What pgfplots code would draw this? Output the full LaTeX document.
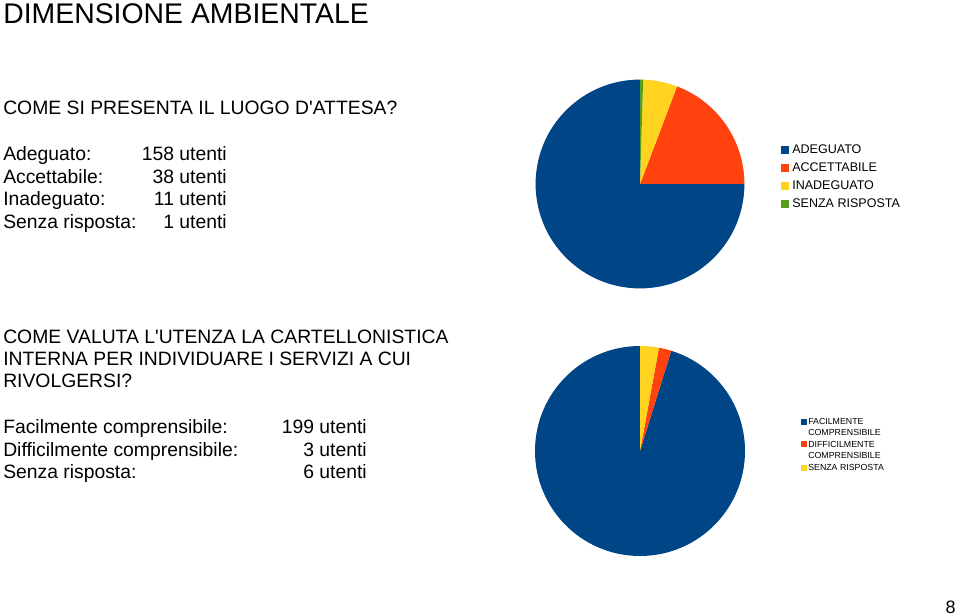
\documentclass[border=0pt]{standalone}
\usepackage{pgfplots}
\pgfplotsset{compat=1.18}
\usepackage{fontspec}
\setmainfont{Liberation Sans}[Ligatures=TeXOff]

\definecolor{cBlue}{HTML}{004586}
\definecolor{cOrange}{HTML}{FF420E}
\definecolor{cYellow}{HTML}{FFD320}
\definecolor{cGreen}{HTML}{579D1C}

% one slice: colour, start angle, end angle (radius \R)
\newcommand{\slice}[3]{%
  \pgfmathsetmacro{\sx}{cos(#2)}\pgfmathsetmacro{\sy}{sin(#2)}%
  \edef\tmp{\noexpand\addplot[fill=#1, draw=none] coordinates {(0,0) (\sx,\sy)}
    arc[start angle=#2, end angle=#3, radius=\R] -- cycle;}\tmp}

\newcommand{\fsTitle}{\fontsize{21.3pt}{25pt}\selectfont}
\newcommand{\fsBody}{\fontsize{14.5pt}{16.9pt}\selectfont}
\newcommand{\fsLegA}{\fontsize{9.4pt}{13.5pt}\selectfont}
\newcommand{\fsLegB}{\fontsize{6.6pt}{8.6pt}\selectfont}

\begin{document}
\begin{tikzpicture}[x=0.75pt, y=-0.75pt]
\fill[white] (0,0) rectangle (959,616);

% texts
\node[anchor=base west, inner sep=0, font=\fsTitle] at (3,24) {DIMENSIONE AMBIENTALE};
\node[anchor=base west, inner sep=0, font=\fsBody] at (3,115) {COME SI PRESENTA IL LUOGO D'ATTESA?};

\foreach \lab/\val/\yy in {Adeguato:/158/161, Accettabile:/38/183.5, Inadeguato:/11/206, Senza risposta:/1/228.5}{
  \node[anchor=base west, inner sep=0, font=\fsBody] at (3,\yy) {\lab};
  \node[anchor=base east, inner sep=0, font=\fsBody] at (227,\yy) {\val\ utenti};
}

\node[anchor=base west, inner sep=0, font=\fsBody] at (3,343) {COME VALUTA L'UTENZA LA CARTELLONISTICA};
\node[anchor=base west, inner sep=0, font=\fsBody] at (3,365) {INTERNA PER INDIVIDUARE I SERVIZI A CUI};
\node[anchor=base west, inner sep=0, font=\fsBody] at (3,387) {RIVOLGERSI?};

\foreach \lab/\val/\yy in {Facilmente comprensibile:/199/433, Difficilmente comprensibile:/3/456, Senza risposta:/6/478}{
  \node[anchor=base west, inner sep=0, font=\fsBody] at (3,\yy) {\lab};
  \node[anchor=base east, inner sep=0, font=\fsBody] at (367,\yy) {\val\ utenti};
}

\node[anchor=base east, inner sep=0, font=\fontsize{13.5pt}{15pt}\selectfont] at (956,613) {8};

% pie 1
\def\R{78.3pt}
\pgfmathsetmacro{\tA}{156+40+11+1}
\pgfmathsetmacro{\aA}{90}
\pgfmathsetmacro{\aB}{\aA+360/\tA*156}
\pgfmathsetmacro{\aC}{\aB+360/\tA*40}
\pgfmathsetmacro{\aD}{\aC+360/\tA*11}
\pgfmathsetmacro{\aE}{\aD+360/\tA*1}
\begin{axis}[at={(480pt,-138pt)}, anchor=center, x=\R, y=\R,
  xmin=-1, xmax=1, ymin=-1, ymax=1, hide axis, clip=false]
  \slice{cBlue}{\aA}{\aB}
  \slice{cOrange}{\aB}{\aC}
  \slice{cYellow}{\aC}{\aD}
  \slice{cGreen}{\aD}{\aE}
\end{axis}

% legend 1
\foreach \c/\lab [count=\i from 0] in {cBlue/ADEGUATO, cOrange/ACCETTABILE, cYellow/INADEGUATO, cGreen/SENZA RISPOSTA}{
  \fill[\c] (781,146+18*\i) rectangle (789,154+18*\i);
  \node[anchor=base west, inner sep=0, font=\fsLegA] at (792,153.5+18*\i) {\lab};
}

% pie 2
\def\R{78.75pt}
\pgfmathsetmacro{\tB}{198+4+6}
\pgfmathsetmacro{\bA}{90}
\pgfmathsetmacro{\bB}{\bA+360/\tB*198}
\pgfmathsetmacro{\bC}{\bB+360/\tB*4}
\pgfmathsetmacro{\bD}{\bC+360/\tB*6}
\begin{axis}[at={(480pt,-338.25pt)}, anchor=center, x=\R, y=\R,
  xmin=-1, xmax=1, ymin=-1, ymax=1, hide axis, clip=false]
  \slice{cBlue}{\bA}{\bB}
  \slice{cOrange}{\bB}{\bC}
  \slice{cYellow}{\bC}{\bD}
\end{axis}

% legend 2
\fill[cBlue] (801,419) rectangle (807,425);
\node[anchor=base west, inner sep=0, font=\fsLegB] at (808,424) {FACILMENTE};
\node[anchor=base west, inner sep=0, font=\fsLegB] at (808,435.5) {COMPRENSIBILE};
\fill[cOrange] (801,441) rectangle (807,447);
\node[anchor=base west, inner sep=0, font=\fsLegB] at (808,447) {DIFFICILMENTE};
\node[anchor=base west, inner sep=0, font=\fsLegB] at (808,458.5) {COMPRENSIBILE};
\fill[cYellow] (801,464.5) rectangle (807,470.5);
\node[anchor=base west, inner sep=0, font=\fsLegB] at (808,470) {SENZA RISPOSTA};
\end{tikzpicture}
\end{document}
